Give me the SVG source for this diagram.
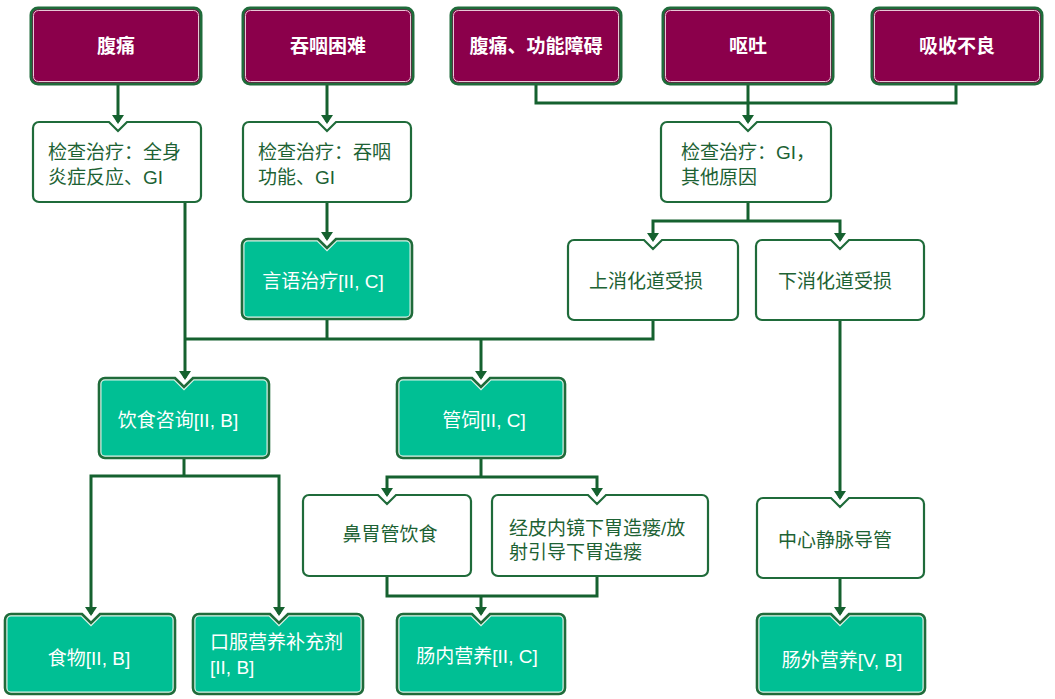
<svg xmlns="http://www.w3.org/2000/svg" xmlns:xlink="http://www.w3.org/1999/xlink" width="1055" height="699" viewBox="0 0 1055 699">
<style>
.bg{fill:#ffffff}
.mar{fill:#8b004b;stroke:#1f6b3a;stroke-width:3}
.marin{fill:none;stroke:#e7c9d6;stroke-width:1}
.wb{fill:#ffffff;stroke:#1f6b3a;stroke-width:2.2}
.tf{fill:#00bf94;stroke:#dff3ea;stroke-width:5}
.te{fill:none;stroke:#1f6b3a;stroke-width:2.6}
.con{fill:none;stroke:#15612f;stroke-width:3}
.arr{fill:none;stroke:#15612f;stroke-width:3;marker-end:url(#ah)}
text{font-family:"Liberation Sans","Noto Sans CJK SC",sans-serif;font-size:19px}
.tm{fill:#ffffff;font-weight:bold;text-anchor:middle}
.tw{fill:#1d6234}
.twc{fill:#1d6234;text-anchor:middle}
.tt{fill:#ffffff;text-anchor:middle}
.tts{fill:#ffffff}
</style>
<defs>
<marker id="ah" viewBox="0 0 9 12" markerWidth="9" markerHeight="12" refX="7" refY="6" orient="auto" markerUnits="userSpaceOnUse">
<path d="M0,0 L9,6 L0,12 Z" fill="#15612f"/>
</marker>
<path id="pYY" d="M248,239 H318 L327,248 L336,239 H406 A6,6 0 0 1 412,245 V313 A6,6 0 0 1 406,319 H248 A6,6 0 0 1 242,313 V245 A6,6 0 0 1 248,239 Z"/>
<path id="pYS" d="M105,378 H175 L184,387 L193,378 H263 A6,6 0 0 1 269,384 V452 A6,6 0 0 1 263,458 H105 A6,6 0 0 1 99,452 V384 A6,6 0 0 1 105,378 Z"/>
<path id="pGS" d="M403,378 H472 L481,387 L490,378 H559 A6,6 0 0 1 565,384 V452 A6,6 0 0 1 559,458 H403 A6,6 0 0 1 397,452 V384 A6,6 0 0 1 403,378 Z"/>
<path id="pSW" d="M11,614 H82 L91,623 L100,614 H169 A6,6 0 0 1 175,620 V688 A6,6 0 0 1 169,694 H11 A6,6 0 0 1 5,688 V620 A6,6 0 0 1 11,614 Z"/>
<path id="pKF" d="M199,614 H270 L279,623 L288,614 H357 A6,6 0 0 1 363,620 V688 A6,6 0 0 1 357,694 H199 A6,6 0 0 1 193,688 V620 A6,6 0 0 1 199,614 Z"/>
<path id="pCN" d="M403,614 H472 L481,623 L490,614 H559 A6,6 0 0 1 565,620 V688 A6,6 0 0 1 559,694 H403 A6,6 0 0 1 397,688 V620 A6,6 0 0 1 403,614 Z"/>
<path id="pCW" d="M763,614 H831 L840,623 L849,614 H919 A6,6 0 0 1 925,620 V688 A6,6 0 0 1 919,694 H763 A6,6 0 0 1 757,688 V620 A6,6 0 0 1 763,614 Z"/>
<clipPath id="cYY"><use xlink:href="#pYY"/></clipPath>
<clipPath id="cYS"><use xlink:href="#pYS"/></clipPath>
<clipPath id="cGS"><use xlink:href="#pGS"/></clipPath>
<clipPath id="cSW"><use xlink:href="#pSW"/></clipPath>
<clipPath id="cKF"><use xlink:href="#pKF"/></clipPath>
<clipPath id="cCN"><use xlink:href="#pCN"/></clipPath>
<clipPath id="cCW"><use xlink:href="#pCW"/></clipPath>
</defs>
<rect class="bg" x="0" y="0" width="1055" height="699"/>

<g id="connectors">
<path class="arr" d="M118,84 V122"/>
<path class="arr" d="M327,84 V122"/>
<path class="con" d="M536,84 V103 H956 V84"/>
<path class="arr" d="M748,84 V122"/>
<path class="arr" d="M327,202 V239"/>
<path class="con" d="M748,202 V221"/>
<path class="arr" d="M748,221 H653 V240"/>
<path class="arr" d="M748,221 H840 V240"/>
<path class="arr" d="M185,202 V378"/>
<path class="con" d="M185,339 H653 V320"/>
<path class="con" d="M327,319 V339"/>
<path class="arr" d="M481,339 V378"/>
<path class="con" d="M184,458 V476"/>
<path class="arr" d="M184,476 H91 V614"/>
<path class="arr" d="M184,476 H279 V614"/>
<path class="con" d="M481,458 V477"/>
<path class="arr" d="M481,477 H387 V495"/>
<path class="arr" d="M481,477 H597 V495"/>
<path class="con" d="M387,576 V596 H597 V576"/>
<path class="arr" d="M481,596 V614"/>
<path class="arr" d="M840,320 V498"/>
<path class="arr" d="M840,578 V614"/>
</g>

<g id="n-futong">
<rect class="mar" x="31" y="8" width="170" height="76" rx="7"/>
<rect class="marin" x="33.5" y="10.5" width="165" height="71" rx="5"/>
<text class="tm" x="116" y="53">腹痛</text>
</g>
<g id="n-tunyan">
<rect class="mar" x="243" y="8" width="170" height="76" rx="7"/>
<rect class="marin" x="245.5" y="10.5" width="165" height="71" rx="5"/>
<text class="tm" x="328" y="53">吞咽困难</text>
</g>
<g id="n-futong2">
<rect class="mar" x="451" y="8" width="170" height="76" rx="7"/>
<rect class="marin" x="453.5" y="10.5" width="165" height="71" rx="5"/>
<text class="tm" x="536" y="53">腹痛、功能障碍</text>
</g>
<g id="n-outu">
<rect class="mar" x="663" y="8" width="170" height="76" rx="7"/>
<rect class="marin" x="665.5" y="10.5" width="165" height="71" rx="5"/>
<text class="tm" x="748" y="53">呕吐</text>
</g>
<g id="n-xishou">
<rect class="mar" x="872" y="8" width="170" height="76" rx="7"/>
<rect class="marin" x="874.5" y="10.5" width="165" height="71" rx="5"/>
<text class="tm" x="957" y="53">吸收不良</text>
</g>

<g id="n-check1">
<path class="wb" d="M39,122 H109 L118,131 L127,122 H195 A6,6 0 0 1 201,128 V196 A6,6 0 0 1 195,202 H39 A6,6 0 0 1 33,196 V128 A6,6 0 0 1 39,122 Z"/>
<text class="tw" x="48" y="159">检查治疗：全身</text>
<text class="tw" x="48" y="184">炎症反应、GI</text>
</g>
<g id="n-check2">
<path class="wb" d="M249,122 H318 L327,131 L336,122 H405 A6,6 0 0 1 411,128 V196 A6,6 0 0 1 405,202 H249 A6,6 0 0 1 243,196 V128 A6,6 0 0 1 249,122 Z"/>
<text class="tw" x="258" y="159">检查治疗：吞咽</text>
<text class="tw" x="258" y="184">功能、GI</text>
</g>
<g id="n-check3">
<path class="wb" d="M667,122 H739 L748,131 L757,122 H825 A6,6 0 0 1 831,128 V196 A6,6 0 0 1 825,202 H667 A6,6 0 0 1 661,196 V128 A6,6 0 0 1 667,122 Z"/>
<text class="tw" x="681" y="159">检查治疗：GI，</text>
<text class="tw" x="681" y="184">其他原因</text>
</g>

<g id="n-yanyu">
<use xlink:href="#pYY" class="tf" clip-path="url(#cYY)"/>
<use xlink:href="#pYY" class="te"/>
<text class="tt" x="323" y="288">言语治疗[II, C]</text>
</g>
<g id="n-shang">
<path class="wb" d="M574,240 H644 L653,249 L662,240 H732 A6,6 0 0 1 738,246 V314 A6,6 0 0 1 732,320 H574 A6,6 0 0 1 568,314 V246 A6,6 0 0 1 574,240 Z"/>
<text class="twc" x="646" y="288">上消化道受损</text>
</g>
<g id="n-xia">
<path class="wb" d="M762,240 H831 L840,249 L849,240 H918 A6,6 0 0 1 924,246 V314 A6,6 0 0 1 918,320 H762 A6,6 0 0 1 756,314 V246 A6,6 0 0 1 762,240 Z"/>
<text class="twc" x="835" y="288">下消化道受损</text>
</g>

<g id="n-yinshi">
<use xlink:href="#pYS" class="tf" clip-path="url(#cYS)"/>
<use xlink:href="#pYS" class="te"/>
<text class="tt" x="178" y="427">饮食咨询[II, B]</text>
</g>
<g id="n-guansi">
<use xlink:href="#pGS" class="tf" clip-path="url(#cGS)"/>
<use xlink:href="#pGS" class="te"/>
<text class="tt" x="484" y="427">管饲[II, C]</text>
</g>

<g id="n-biwei">
<path class="wb" d="M309,495 H378 L387,504 L396,495 H465 A6,6 0 0 1 471,501 V570 A6,6 0 0 1 465,576 H309 A6,6 0 0 1 303,570 V501 A6,6 0 0 1 309,495 Z"/>
<text class="twc" x="390" y="541">鼻胃管饮食</text>
</g>
<g id="n-jingpi">
<path class="wb" d="M498,495 H588 L597,504 L606,495 H702 A6,6 0 0 1 708,501 V570 A6,6 0 0 1 702,576 H498 A6,6 0 0 1 492,570 V501 A6,6 0 0 1 498,495 Z"/>
<text class="tw" x="509" y="535">经皮内镜下胃造瘘/放</text>
<text class="tw" x="509" y="559">射引导下胃造瘘</text>
</g>
<g id="n-zhongxin">
<path class="wb" d="M763,498 H831 L840,507 L849,498 H918 A6,6 0 0 1 924,504 V572 A6,6 0 0 1 918,578 H763 A6,6 0 0 1 757,572 V504 A6,6 0 0 1 763,498 Z"/>
<text class="twc" x="835" y="547">中心静脉导管</text>
</g>

<g id="n-shiwu">
<use xlink:href="#pSW" class="tf" clip-path="url(#cSW)"/>
<use xlink:href="#pSW" class="te"/>
<text class="tt" x="89" y="665">食物[II, B]</text>
</g>
<g id="n-koufu">
<use xlink:href="#pKF" class="tf" clip-path="url(#cKF)"/>
<use xlink:href="#pKF" class="te"/>
<text class="tts" x="210" y="649">口服营养补充剂</text>
<text class="tts" x="210" y="674">[II, B]</text>
</g>
<g id="n-changnei">
<use xlink:href="#pCN" class="tf" clip-path="url(#cCN)"/>
<use xlink:href="#pCN" class="te"/>
<text class="tt" x="477" y="663">肠内营养[II, C]</text>
</g>
<g id="n-changwai">
<use xlink:href="#pCW" class="tf" clip-path="url(#cCW)"/>
<use xlink:href="#pCW" class="te"/>
<text class="tt" x="842" y="667">肠外营养[V, B]</text>
</g>
</svg>
